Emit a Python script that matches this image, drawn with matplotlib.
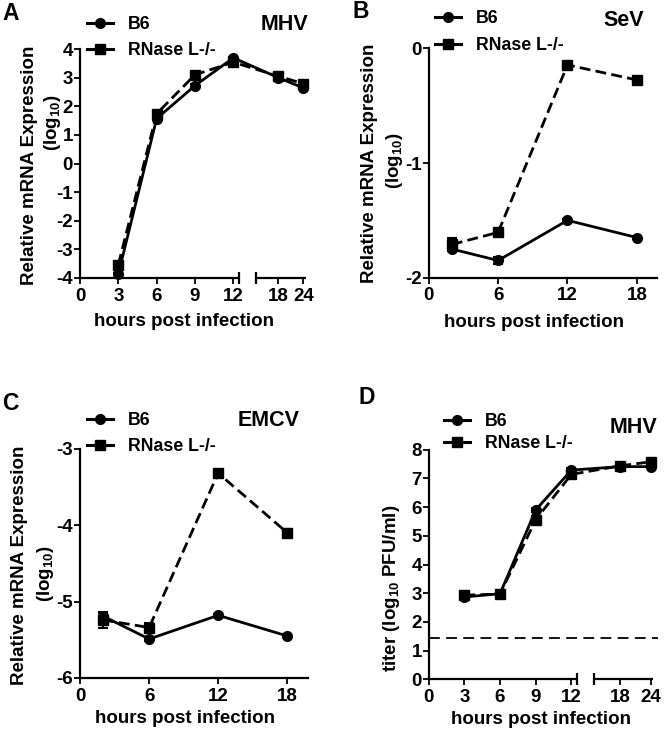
import numpy as np
import matplotlib
matplotlib.use('Agg')
import matplotlib.pyplot as plt
from matplotlib.lines import Line2D

plt.rcParams['font.family'] = ['Liberation Sans', 'DejaVu Sans']
plt.rcParams['font.weight'] = 'bold'
plt.rcParams['axes.labelweight'] = 'bold'
plt.rcParams['axes.unicode_minus'] = False
plt.rcParams['mathtext.fontset'] = 'custom'
plt.rcParams['mathtext.bf'] = 'Liberation Sans:bold'
plt.rcParams['mathtext.rm'] = 'Liberation Sans:bold'
plt.rcParams['mathtext.default'] = 'bf'

# data
hours_mhv = [3, 6, 9, 12, 18, 24]
mhv_b6 = [-3.86, 1.57, 2.72, 3.69, 3.00, 2.64]
mhv_ko = [-3.53, 1.74, 3.10, 3.54, 3.05, 2.79]
mhv_b6_err = [0.05, 0.05, 0.04, 0.04, 0.03, 0.03]
mhv_ko_err = [0.08, 0.05, 0.05, 0.04, 0.03, 0.03]

hours_bc = [2, 6, 12, 18]
sev_b6 = [-1.75, -1.85, -1.50, -1.65]
sev_ko = [-1.71, -1.605, -0.145, -0.276]
sev_b6_err = [0.02, 0.03, 0.01, 0.01]
sev_ko_err = [0.06, 0.02, 0.02, 0.02]

emcv_b6 = [-5.19, -5.49, -5.18, -5.45]
emcv_ko = [-5.24, -5.34, -3.32, -4.10]
emcv_b6_err = [0.04, 0.03, 0.02, 0.02]
emcv_ko_err = [0.10, 0.06, 0.04, 0.05]

titer_b6 = [2.87, 2.98, 5.90, 7.29, 7.41, 7.41]
titer_ko = [2.93, 2.97, 5.56, 7.14, 7.44, 7.58]
titer_b6_err = [0.05, 0.05, 0.08, 0.06, 0.05, 0.05]
titer_ko_err = [0.05, 0.05, 0.12, 0.06, 0.05, 0.05]
detection_limit = 1.43

labels = ['B6', 'RNase L-/-']

W, H = 664, 735
fig = plt.figure(figsize=(W / 100, H / 100), dpi=100)


def add_ax(left, top, right, bottom):
    ax = fig.add_axes([left / W, 1 - bottom / H, (right - left) / W, (bottom - top) / H])
    ax.spines['top'].set_visible(False)
    ax.spines['right'].set_visible(False)
    for s in ['left', 'bottom']:
        ax.spines[s].set_linewidth(1.6)
    ax.tick_params(direction='out', length=4, width=1.3, labelsize=13.5, pad=1)
    ax.tick_params(axis='x', pad=3)
    return ax


def break_scale(x18, x24):
    s1 = (x18 - 12) / 6
    s2 = (x24 - x18) / 6

    def fwd(h):
        h = np.asarray(h, dtype=float)
        return np.where(h <= 12, h, np.where(h <= 18, 12 + (h - 12) * s1, x18 + (h - 18) * s2))

    def inv(d):
        d = np.asarray(d, dtype=float)
        return np.where(d <= 12, d, np.where(d <= x18, 12 + (d - 12) / s1, 18 + (d - x18) / s2))
    return fwd, inv


def draw_series(ax, x, b6, ko, b6_err, ko_err):
    ax.errorbar(x, b6, yerr=b6_err, fmt='none', ecolor='k', elinewidth=1.5, capsize=3.5, capthick=1.5, zorder=3)
    ax.errorbar(x, ko, yerr=ko_err, fmt='none', ecolor='k', elinewidth=1.5, capsize=3.5, capthick=1.5, zorder=3)
    ax.plot(x, b6, color='k', lw=2.0, marker='o', ms=7, zorder=4, clip_on=False)
    ax.plot(x, ko, color='k', lw=2.0, ls='--', dashes=(3.9, 1.9), marker='s', ms=7, zorder=4, clip_on=False)


def broken_xaxis(ax, inv, b1, b2, end):
    ax.spines['bottom'].set_visible(False)
    tr = ax.get_xaxis_transform()
    ax.plot(inv([0, b1]), [0, 0], color='k', lw=1.6, transform=tr, clip_on=False, solid_capstyle='butt')
    ax.plot(inv([b2, end]), [0, 0], color='k', lw=1.6, transform=tr, clip_on=False, solid_capstyle='butt')
    ax.plot(inv([b1, b2]), [0, 0], ls='none', marker='|', ms=9, mew=1.6, color='k', transform=tr, clip_on=False)
    ax.set_xlim(0, float(inv(end)))


def add_legend(ax, x, y, spacing):
    handles = [Line2D([], [], color='k', lw=2.2, marker='o', ms=7),
               Line2D([], [], color='k', lw=2.2, marker='s', ms=7)]
    ax.legend(handles, labels, loc='upper left', bbox_to_anchor=(x / W, 1 - y / H),
              bbox_transform=fig.transFigure, frameon=False, borderpad=0, borderaxespad=0,
              handlelength=1.45, handletextpad=0.85, labelspacing=spacing, fontsize=12.8)


def set_xlabel(ax, xlabel, xl):
    ax.set_xlabel(xlabel, fontsize=13.5, va='top')
    ax.xaxis.set_label_coords(*xl)


def ylabel_lines(lines, xs, ys):
    for s, x, y in zip(lines, xs, ys):
        fig.text(x / W, 1 - y / H, s, fontsize=13.5, fontweight='bold', rotation=90,
                 ha='center', va='center')


def panel_text(x, y, s, size, ha):
    fig.text(x / W, 1 - y / H, s, fontsize=size, fontweight='bold', ha=ha, va='center')


expr_label = ['Relative mRNA Expression', '(log$_{10}$)']

# A
axA = add_ax(80, 49, 306, 278)
fwdA, invA = break_scale(15.52, 17.48)
axA.set_xscale('function', functions=(fwdA, invA))
draw_series(axA, hours_mhv, mhv_b6, mhv_ko, mhv_b6_err, mhv_ko_err)
broken_xaxis(axA, invA, 12.47, 13.78, 17.69)
axA.set_xticks([0, 3, 6, 9, 12, 18, 24])
axA.set_ylim(-4, 4)
axA.set_yticks(np.arange(-4, 5, 1))
set_xlabel(axA, 'hours post infection', (0.462, -0.155))
ylabel_lines(expr_label, [30, 53], [165, 123])
add_legend(axA, 87, 16, 0.5)

# B
axB = add_ax(428.7, 48.3, 657, 277.7)
draw_series(axB, hours_bc, sev_b6, sev_ko, sev_b6_err, sev_ko_err)
axB.set_xlim(0, 19.74)
axB.set_ylim(-2, 0)
axB.set_xticks([0, 6, 12, 18])
axB.set_yticks([-2, -1, 0])
set_xlabel(axB, 'hours post infection', (0.46, -0.16))
ylabel_lines(expr_label, [369, 394], [163.5, 161])
add_legend(axB, 435, 10, 0.58)

# C
axC = add_ax(80, 448.7, 308, 678)
draw_series(axC, hours_bc, emcv_b6, emcv_ko, emcv_b6_err, emcv_ko_err)
axC.set_xlim(0, 19.8)
axC.set_ylim(-6, -3)
axC.set_xticks([0, 6, 12, 18])
axC.set_yticks([-6, -5, -4, -3])
set_xlabel(axC, 'hours post infection', (0.46, -0.138))
ylabel_lines(expr_label, [20, 45], [565.5, 574])
add_legend(axC, 87, 412, 0.52)

# D
axD = add_ax(428.7, 449.7, 653.4, 679.3)
fwdD, invD = break_scale(16.13, 18.71)
axD.set_xscale('function', functions=(fwdD, invD))
axD.axhline(detection_limit, xmin=0, xmax=1.02, color='k', lw=1.3, ls='--', dashes=(6, 3.5), clip_on=False)
draw_series(axD, hours_mhv, titer_b6, titer_ko, titer_b6_err, titer_ko_err)
broken_xaxis(axD, invD, 12.46, 13.87, 18.9)
axD.set_xticks([0, 3, 6, 9, 12, 18, 24])
axD.set_ylim(0, 8)
axD.set_yticks(np.arange(0, 9, 1))
set_xlabel(axD, 'hours post infection', (0.498, -0.14))
ylabel_lines(['titer (log$_{10}$ PFU/ml)'], [391], [588])
add_legend(axD, 444, 413, 0.3)

# panel letters and virus names
panel_text(2, 14, 'A', 16.5, 'left')
panel_text(353, 11, 'B', 16.5, 'left')
panel_text(2, 403, 'C', 16.5, 'left')
panel_text(358, 398, 'D', 16.5, 'left')
panel_text(308, 25, 'MHV', 15.5, 'right')
panel_text(644, 20, 'SeV', 15.5, 'right')
panel_text(300, 420, 'EMCV', 15.5, 'right')
panel_text(657, 427, 'MHV', 15.5, 'right')

fig.savefig('out.png', dpi=100)
